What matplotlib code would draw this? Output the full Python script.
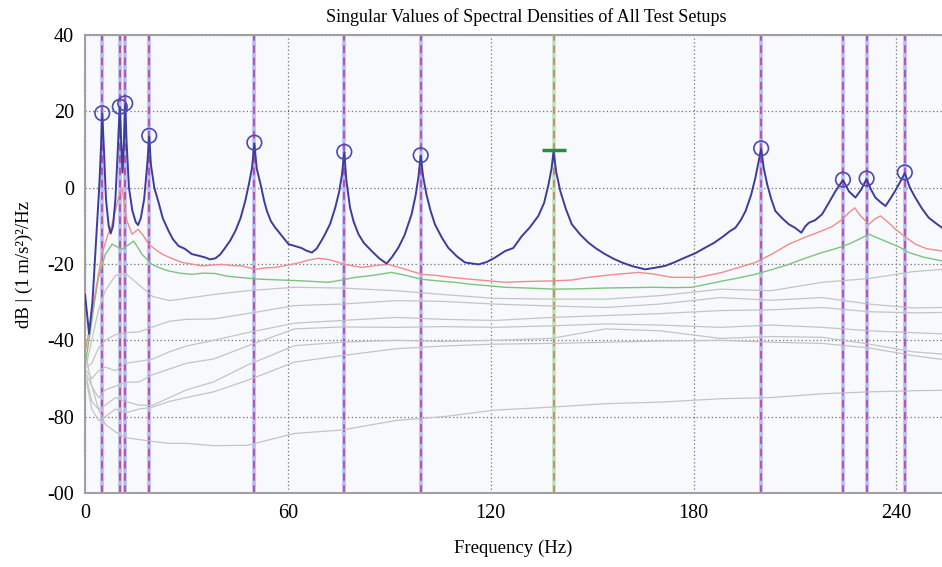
import numpy as np
import matplotlib
matplotlib.use('Agg')
import matplotlib.pyplot as plt

plt.rcParams['font.family'] = ['Liberation Serif', 'DejaVu Serif']

# Primera curva (valor singular mayor)
blue_hz = [0, 0.6, 1.2, 2.2, 3.2, 4.2, 4.8, 5.1, 5.6, 6.2, 7.0, 7.6, 8.3, 9.0, 9.6, 10.0, 10.3, 10.7, 11.1, 11.5,
           11.9, 12.3, 13.0, 14.0, 15.0, 15.7, 16.5, 17.5, 18.4, 19.0, 19.5, 20.5, 21.8, 23.0, 24.7, 26.0, 27.7,
           29.5, 31.6, 33.5, 35.6, 37.0, 38.6, 40.0, 41.5, 43.0, 44.5, 46.0, 47.4, 48.5, 49.4, 50.1, 50.8, 51.9,
           53.0, 53.8, 55.0, 56.3, 58.3, 60.2, 62.1, 64.0, 65.5, 67.1, 68.5, 70.0, 71.0, 72.5, 74.0, 75.2, 76.0,
           76.7, 77.3, 78.4, 79.5, 80.9, 82.5, 84.8, 87.0, 89.2, 90.8, 92.7, 94.5, 96.6, 97.8, 98.6, 99.3, 100.0,
           101.0, 102.2, 103.5, 105.5, 107.4, 110.0, 112.4, 116.4, 118.8, 121.3, 124.3, 126.7, 129.2, 131.5,
           134.1, 135.8, 137.1, 138.0, 138.6, 139.4, 140.6, 142.2, 144.0, 146.5, 148.9, 151.3, 153.8, 156.3,
           158.8, 162.0, 165.7, 168.5, 171.6, 174.5, 177.5, 180.5, 183.5, 186.0, 188.9, 190.6, 192.4, 194.0,
           195.4, 197.0, 198.3, 199.3, 200.0, 200.8, 201.8, 203.0, 204.2, 206.2, 208.2, 210.0, 211.9, 213.0,
           214.1, 216.0, 218.0, 220.0, 222.0, 224.2, 226.0, 227.9, 229.6, 231.2, 232.5, 233.8, 235.3, 236.8,
           238.5, 240.2, 242.5, 244.0, 245.6, 247.6, 249.6, 251.5, 253.5]
blue_db = [-28, -33, -38.3, -30, -15, 0, 12, 19.4, 10, -3, -10, -12, -10, -3, 8, 16, 21.1, 12, 4, 12,
           22.0, 12, 0, -6, -9, -9.8, -8, -3, 6, 13.4, 6, 0, -4, -8, -11.3, -13.5, -15.3,
           -16.0, -17.4, -17.8, -18.3, -18.8, -18.5, -17.5, -15.7, -13.8, -11.3, -8, -3.5, 1, 5.2, 11.6, 5, 1.0,
           -3.5, -6.1, -8.8, -10.5, -12.7, -14.8, -15.3, -15.8, -16.5, -17.0, -16, -13.8, -12.2, -9.5, -5.3, -1, 3.4,
           9.3, 2, -5.3, -9, -12.2, -14.5, -16.6, -18.5, -19.9, -18.2, -15.7, -12.5, -7.0, -2, 2.6, 8.4, 3,
           -1.8, -6, -9.6, -13, -15.7, -18, -19.6, -20.1, -19.5, -18.3, -16.6, -15.8, -12.7, -10.5,
           -7.4, -4, 0.8, 5, 9.5, 4, -0.9, -5.5, -9.6, -12.3, -14.4, -16, -17.4, -18.6,
           -19.6, -20.6, -21.4, -21.0, -20.5, -19.5, -18.3, -17.2, -15.7, -14.5, -12.7, -11.5, -10.5, -8.5,
           -6.1, -2, 2.6, 7, 10.2, 5, 0.8, -3, -6.1, -8, -9.6, -10.5, -11.8, -10.2,
           -9.2, -8.5, -7.0, -4, -0.9, 2.0, -1, -2.6, -0.5, 2.3, -0.5, -2.6, -3.8, -4.8,
           -2.5, 0.0, 3.8, 0, -2.6, -5.5, -7.9, -9.2, -10.5]

# Segunda curva
red_hz = [0.3, 1.5, 3.0, 5.0, 6.5, 8.0, 9.0, 9.9, 10.9, 11.6, 12.4, 13.9, 15.7, 17.2, 18.8, 20.5, 22.8, 25.5,
          28.7, 31.5, 34.6, 37.5, 40.5, 43.5, 46.4, 50.4, 53.5, 56.3, 60, 63.7, 66, 69.0, 72, 76.9, 81.9, 86,
          89.7, 94, 99.6, 104, 108.4, 114, 119.3, 124.3, 130, 139.1, 144, 148.9, 156, 163.7, 168, 173.6, 181.5,
          188.5, 193, 198.3, 203, 208.2, 213, 218.0, 221, 224.0, 226, 227.7, 229.5, 231.9, 233.5, 235.3, 237.5,
          239.7, 242.5, 245.6, 249, 253.5]
red_db = [-42, -36, -27.9, -17.4, -13, -9.6, -6, -2.6, 0, -4, -8.7, -12.2, -10.9, -12.5, -14.8, -16, -17.4, -18.5,
          -19.6, -20, -20.5, -20.3, -20.1, -20.4, -20.5, -21.4, -21.0, -20.9, -20.3, -19.6, -19, -18.5, -18.8, -20.1,
          -20.9, -20.4, -20.1, -21.2, -22.7, -23.0, -23.5, -24.0, -24.4, -24.8, -24.6, -24.4, -24.2, -23.5, -22.8,
          -22.2, -22.6, -23.5, -23.5, -22.2, -21, -19.6, -17.5, -14.8, -13, -11.3, -10.2, -8.3, -6.5, -5.3, -7.5,
          -9.6, -8.3, -7.4, -9, -10.9, -12.8, -14.8, -16, -16.6]

# Tercera curva
green_hz = [0.3, 1.5, 2.8, 4.0, 6.0, 8.0, 9.5, 10.9, 12.5, 14.4, 15.5, 16.8, 19.8, 22, 24.7, 28, 31.6, 35, 38.6,
            42, 45.5, 49, 52.4, 58, 63.7, 68, 72.0, 76, 79.9, 85, 90.7, 95, 99.6, 104, 109.4, 114, 119.3, 124.3,
            131, 139.1, 146, 153.8, 161, 168.6, 174, 179.5, 184, 188.9, 193, 198.3, 203, 208.2, 213, 218.0, 222,
            225.9, 229, 231.9, 234.5, 237.8, 241, 243.7, 248, 253.5]
green_db = [-45, -38, -30, -23.5, -17.5, -14.8, -15.5, -16.1, -15.2, -14.0, -15.5, -17.4, -20.1, -21, -21.8, -22.4,
            -22.7, -22.4, -22.5, -23.2, -23.5, -23.8, -24.0, -24.2, -24.4, -24.6, -24.8, -24.2, -23.5, -23, -22.2,
            -23, -24.0, -24.4, -24.8, -25.3, -25.7, -26.1, -26.3, -26.6, -26.5, -26.3, -26.2, -26.1, -26.2, -26.1,
            -25.3, -24.4, -23.7, -22.7, -21.5, -20.1, -18.5, -17.0, -16, -14.8, -13.5, -12.2, -13.2, -14.4, -15.6,
            -17.0, -18.2, -19.2]

# Resto de valores singulares (grises)
gray_hz = [0.5, 2, 4, 6, 9, 12, 16, 20, 25, 30, 38, 48, 62, 76, 92, 106, 121, 138, 154, 170, 188, 203, 218, 232,
           245, 253.5]
gray1_db = [-46, -40, -32, -27, -23, -22.5, -25.5, -28.5, -29.6, -29, -28, -27, -26.1, -26.3, -27.0, -28, -29,
            -29.2, -29.2, -28.3, -26.6, -27.0, -24.8, -23.8, -22, -21.4]
gray2_db = [-47, -46, -42, -40, -38.5, -38, -37.8, -36.5, -35, -34.5, -34.4, -33, -30.9, -30.5, -29.6, -29.8,
            -30.5, -31, -31.4, -30.5, -28.8, -29.5, -28.8, -30.5, -31.5, -31.4]
gray3_db = [-48, -50, -48, -47, -48, -46, -45.5, -44.9, -43, -41.5, -40, -38, -35.5, -34.8, -34, -34.5, -34.8,
            -34, -33.5, -33, -32.2, -32, -31.4, -32.5, -32.8, -32.7]
gray4_db = [-49, -52, -55, -53, -52, -51, -50.9, -49, -47.5, -46, -44.9, -41.5, -37, -36.5, -36.6, -36.4, -36.6,
            -36.2, -35.7, -36, -36.6, -36, -36.6, -37.5, -38, -38.3]
gray5_db = [-50, -56, -58, -57, -55, -56, -57, -57, -55, -53, -50.9, -46.5, -41.4, -40.5, -40, -40.3, -40, -39.5,
            -37.0, -37.5, -39.5, -39, -39.2, -41, -43, -43.6]
gray6_db = [-51, -58, -61, -60, -58, -59, -58, -57.5, -56, -55, -53.5, -50.5, -45.7, -44, -42.2, -41.5, -41,
            -40.8, -40.5, -40.2, -40, -40.5, -40.8, -42, -44, -45]
gray7_db = [-45, -52, -58, -62, -64, -65.5, -66, -66.5, -67, -67, -67.6, -67.5, -64.4, -63.5, -61, -60, -58.3,
            -57.5, -56.6, -56.2, -55.3, -55, -54, -53.5, -53.2, -53.1]

# Picos seleccionados
peak_hz = [5.1, 10.3, 11.9, 19.0, 50.1, 76.7, 99.3, 200.0, 224.2, 231.2, 242.5]
peak_db = [19.5, 21.2, 22.1, 13.6, 11.8, 9.4, 8.5, 10.3, 2.1, 2.4, 4.0]
cursor_hz = 138.6
cursor_db = 9.8

x_ticks = [0, 60, 120, 180, 240]
y_ticks = [40, 20, 0, -20, -40, -60, -80]
y_labels = ['40', '20', '0', '-20', '-40', '-80', '-00']

fig = plt.figure(figsize=(9.42, 5.67), dpi=100)
ax = fig.add_axes([85 / 942, 74 / 567, 1 - 85 / 942, 458 / 567])
ax.set_facecolor('#f8f9fd')

# Lineas verticales de los modos
for f in peak_hz:
    ax.axvline(f, color='#b4bcf2', lw=2.6, zorder=1)
    ax.axvline(f, color='#c0349a', lw=1.1, dashes=(5, 3), zorder=1.5)
ax.axvline(cursor_hz, color='#b8e4bc', lw=2.6, zorder=1)
ax.axvline(cursor_hz, color='#d07a4a', lw=1.1, dashes=(5, 3), zorder=1.5)

for g in [gray7_db, gray6_db, gray5_db, gray4_db, gray3_db, gray2_db, gray1_db]:
    ax.plot(gray_hz, g, color='#c4c4c4', lw=0.9, zorder=2)
ax.plot(green_hz, green_db, color='#7cc47c', lw=1.0, zorder=3)
ax.plot(red_hz, red_db, color='#f08c8c', lw=1.0, zorder=3)
ax.plot(blue_hz, blue_db, color='#3c3c9c', lw=1.4, zorder=4)

ax.scatter(peak_hz, peak_db, s=110, facecolors='none', edgecolors='#4a4ab0', linewidths=1.2, zorder=5)
ax.plot([cursor_hz], [cursor_db], marker='_', color='#2e8b3e', markersize=17, mew=2.5, zorder=5)

ax.set_xlim(0, 253.5)
ax.set_ylim(-80, 40)
ax.set_xticks(x_ticks)
ax.set_yticks(y_ticks)
ax.set_yticklabels(y_labels)
ax.grid(True, color='#707070', lw=0.9, linestyle=(0, (1, 2)))
ax.set_axisbelow(True)
ax.tick_params(length=0, labelsize=14.5, pad=8)

for side in ['left', 'bottom', 'top']:
    ax.spines[side].set_color('#a0a0a0')
    ax.spines[side].set_linewidth(1.5)
ax.spines['right'].set_visible(False)

ax.set_title('Singular Values of Spectral Densities of All Test Setups', fontsize=13, x=0.515, pad=9)
ax.set_xlabel('Frequency (Hz)', fontsize=13.5, labelpad=12)
ax.set_ylabel('dB | (1 m/s²)²/Hz', fontsize=13.5, labelpad=10)

fig.savefig('out.png', dpi=100)
